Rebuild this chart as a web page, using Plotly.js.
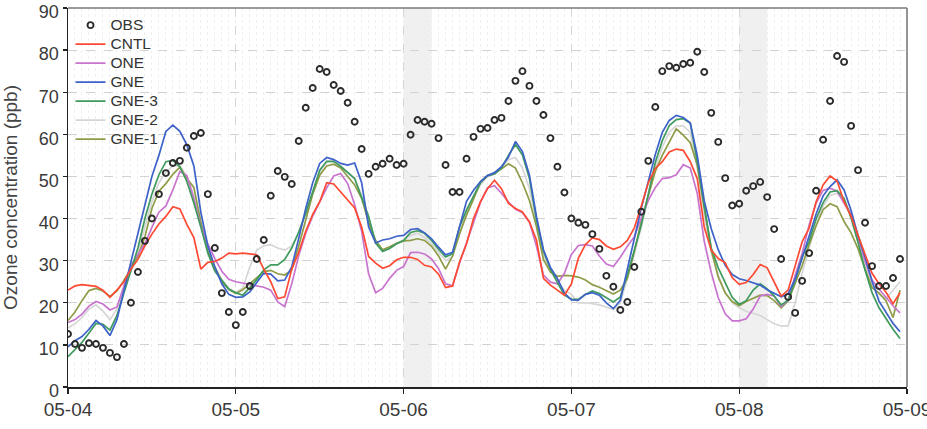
<!DOCTYPE html>
<html>
<head>
<meta charset="utf-8">
<script src="https://cdn.plot.ly/plotly-3.0.1.min.js"></script>
<style>html,body{margin:0;padding:0;background:#fff;}#chart{width:927px;height:429px;}</style>
</head>
<body>
<div id="chart"></div>
<script>
// Hourly values, 05-04 00:00 through 05-08 23:00 (120 hours)
var startDay = 4;
var tickLabels = ['05-04','05-05','05-06','05-07','05-08','05-09'];
var seriesNames = ['OBS','CNTL','ONE','GNE','GNE-3','GNE-2','GNE-1'];

var OBS = [12.6,10.2,9.3,10.4,10.2,9.3,8.1,7.1,10.2,20,
  27.3,34.7,40,45.8,50.8,53.2,53.7,56.8,59.6,60.3,
  45.8,33,22.3,17.8,14.7,17.8,24,30.4,34.9,45.4,
  51.3,49.9,48.2,58.4,66.3,71,75.5,74.8,71.7,70.3,
  67.5,63,56.5,50.6,52.3,53,54.2,52.7,53,59.9,
  63.4,63,62.5,59.1,52.7,46.3,46.3,54.2,59.4,61.3,
  61.5,63.4,63.9,67.9,72.7,75,71.5,67.9,64.6,59.1,
  52.3,46.2,40,39,38.5,36.3,32.8,26.4,23.8,18.3,
  20.2,28.5,41.6,53.7,66.5,75,76.2,75.8,76.7,77,
  79.6,74.8,65.1,58.2,49.6,43.1,43.5,46.6,47.7,48.7,
  45.1,37.5,30.4,21.4,17.6,25.2,31.8,46.6,58.7,67.9,
  78.6,77.2,62,51.5,39,28.7,24,24,25.9,30.4];

var CNTL = [23,24,24.3,24.1,23.9,23,21.3,23,25,28,30.3,33.5,36.3,38.7,40.5,42.8,42.3,38.6,35.5,28,29.6,29.8,30.6,31.8,31.6,
  31.8,31.6,31.4,28,25,21,21.4,28,32,37,41,44,48.5,48.2,46.3,44.3,42.5,38,31,29.4,28.2,28.8,30.2,30.8,
  30.8,30.3,28.9,28.5,26.8,23.6,24,29.7,34,40,44,47.1,49.1,47.1,43.6,42.4,41.6,39.2,34.9,25.8,24.2,23,21.8,24.5,
  30.6,33.8,35.4,35,33.5,32.7,33.3,34.8,37.8,43,48.5,51.9,53.5,55.8,56.5,56.2,53.5,49.5,38,32.5,30.5,29.5,26,24.4,24.8,
  26.7,29.1,28.3,25,21.6,23,29,34.5,37.7,44,48,50.1,48.9,44,40.5,36,31.5,27,24.5,22.5,19.8,22.4];

var ONE = [15.3,16,17.3,19.2,20.3,19.7,18.3,19,24,28.8,31.5,34,37.9,41.5,43,46.8,51.2,50.2,44.7,38.2,34,30.5,27.5,25.6,25,
  24.7,24.4,24,23.7,23,20.2,19.1,24.5,31.2,36.5,40.6,44,47.3,50.1,50.7,48.3,43.3,37,26.8,22.4,23.4,25.8,27.7,28.6,
  31.9,32,31.6,30.4,28.1,24.5,24,29.4,34.2,39.2,43.9,47.3,47.8,46,43.9,42.2,41.4,39.1,33.5,26.6,24.9,24.5,27,31.5,
  33.6,33.8,33.5,31.1,29.2,28.6,30.8,33.4,35.7,40.2,44.3,47.4,49.5,49.7,50.4,52.8,52,46,34.6,27.2,21.2,17.4,15.7,15.7,16.2,
  18.5,21.6,22,21.6,19.1,20.6,26.5,31.7,38.5,43.7,46.7,47.2,46.5,43.6,41.1,35.5,29.9,25.4,23.2,21.3,19.3,17.6];

var GNE = [9.5,11,12,13.7,15.8,14.5,12.2,16,22.9,29.8,36.5,43,50,55,60.7,62.2,60.7,57.5,52.5,41.5,33.5,28.5,24.5,22,21.3,
  21.4,22.6,24.8,27,26.8,25.2,25.4,28.5,35.3,42.4,48.5,53.1,54.5,54,53.1,52.7,53.2,48.5,38,34.2,34.9,35.2,35.8,36,
  37.4,37.6,36.6,35.2,33.2,31.4,32,38.4,44.1,46.7,48.8,50.2,50.9,52.3,54.6,58.3,55.9,50.3,40.5,32.6,28.4,25.7,22.3,20.7,
  20.6,22,22.4,21.8,20,18.6,20.6,28,35.2,42.5,48.8,55.2,60.5,63.3,64.5,64,62.7,55,44.2,37.6,32.6,28.9,26.7,25.7,25.3,
  24.8,24.2,23.1,22.3,21.4,22.1,25.6,30.6,36.1,41.1,45.4,47.6,49.2,46.8,41.9,36,30.9,25.1,20.4,17.7,15.1,13.1];

var GNE3 = [7.2,8.8,10.6,12.8,15.1,14.9,13.5,17,22.5,28,33,40,45.8,50.4,53.5,53.8,52.3,48.8,43.7,38,31.8,27.5,25.3,23.2,22.4,
  21.8,23.6,25.5,27.8,29,29,30.3,33,36.8,41.2,46.2,51.5,53.6,53.6,52.4,51,49.5,45,40.5,34.2,32.2,32.9,34,34.8,
  36.7,37.1,36.5,34.8,32.7,30.9,31.6,38,42,45.3,48.5,50.2,50.6,52,55,57.6,55.1,49.5,39.7,32.3,28,24.8,21.9,20.8,
  20.8,22,22.8,22.2,21.3,20.2,21.4,26.6,32.5,38.5,45.8,53.3,58.5,62.1,63.5,63.7,62.7,53.5,43,33,28.3,24.9,21.3,19.6,20.5,
  23,24.5,23.3,21.6,19.5,20.6,25.3,30.9,34.6,39.9,43.8,46.3,46.6,44.8,40.1,34.3,27.8,22.4,18.8,16.2,13.7,11.5];

var GNE2 = [14,15,16.5,18.5,19.5,18,16,18.5,23,27.5,32,38,44,48.5,51,52.5,52.5,50,45.5,39,33,28.5,25.5,23.5,22.5,
  23.5,28.5,32.5,33.5,33.8,33,32.5,33.5,36.5,41.5,46.5,51,53.5,53.5,52.5,51,49.5,45.5,40,34.5,32.5,33,34,35,
  36,36.5,35.5,34,32,30,31,36.5,41.5,45,48,50,50.6,52,54,54.5,52,47,39,31.5,27.5,25,23,22,
  20,20,19.8,19.5,19,18.4,20,25.5,31.5,38,45,52,57,60.5,62,62,60.5,52,41,32,26.5,22.5,20,18.8,18,
  17.5,17,16,15,14.5,14.5,20,27,33,38.5,43,45.5,46,44.5,40.5,35,29,24.5,22,21,23,25];

var GNE1 = [15.8,17.8,20.5,22.9,23.4,22.8,21.5,22.8,25.3,28.2,31,35.7,42.4,46.5,48.3,50.5,52.2,49.5,47.4,39.2,32.3,28.5,25,23.2,22.2,
  23.1,24.6,26,27.4,27.7,26.9,26.6,27.8,33.5,39.7,45.8,50.3,52.5,52.9,52,50,48,44.8,39,34.8,32.6,33.3,34.1,34.7,
  34.8,35.2,34.8,33.4,31.1,28,31.1,36.4,40.8,44.6,48.8,50.2,50.7,51.8,53,52,48.5,44.3,38.1,30.3,27.3,26.3,26.5,26.4,
  26.1,25.4,24.3,23.7,22.8,22.1,23,25.8,32.2,39.4,45.5,51.2,55,58.2,61.3,59.8,58,52.7,42.2,32.6,26.1,22.3,20.3,19.3,20.3,
  21,21.8,21.7,20.5,18.8,20.4,24.6,28.8,33.8,38.3,42.1,43.5,42.8,39.3,36.6,32.8,28,23.6,22.3,20.5,16.5,23];

var shadedDays = ['2014-05-06', '2014-05-08'];
var shadedHours = 4;

function pad(n){ return (n < 10 ? '0' : '') + n; }
var times = [];
for (var h = 0; h < OBS.length; h++) {
  var d = startDay + Math.floor(h / 24);
  times.push('2014-05-' + pad(d) + ' ' + pad(h % 24) + ':00');
}
var tickVals = [];
for (var i = 0; i < tickLabels.length; i++) tickVals.push('2014-05-' + pad(startDay + i) + ' 00:00');

function lbl(s){ return '<span style="font-size:15.5px">' + s + '</span>'; }

var colors = {CNTL:'#ff4a33', ONE:'#c874cf', GNE:'#3d62c9', 'GNE-3':'#3f9a5d', 'GNE-2':'#d6d6d6', 'GNE-1':'#8e9c48'};
var values = {CNTL:CNTL, ONE:ONE, GNE:GNE, 'GNE-3':GNE3, 'GNE-2':GNE2, 'GNE-1':GNE1};
var drawOrder = ['GNE-2','GNE-1','ONE','GNE-3','GNE','CNTL'];

var traces = [];
drawOrder.forEach(function(n){
  traces.push({x: times, y: values[n], type:'scatter', mode:'lines', name: lbl(n),
    legendrank: seriesNames.indexOf(n) + 1,
    line:{color: colors[n], width: 1.7}});
});
traces.push({x: times, y: OBS, type:'scatter', mode:'markers', name: lbl('OBS'), legendrank: 1,
  marker:{symbol:'circle-open', size:6, color:'#2b2b2b', line:{width:1.9, color:'#2b2b2b'}}});

var shapes = [];
shadedDays.forEach(function(dd){
  var end = dd + ' ' + pad(shadedHours) + ':00';
  shapes.push({type:'rect', xref:'x', yref:'paper', x0: dd + ' 00:00', x1: end, y0:0, y1:1,
    fillcolor:'#f0f0f0', line:{width:0}, layer:'below'});
});
shapes.push({type:'line', xref:'paper', yref:'paper', x0:0, x1:1, y0:1, y1:1, line:{color:'#7a7a7a', width:1.6}});
shapes.push({type:'line', xref:'paper', yref:'paper', x0:1, x1:1, y0:0, y1:1, line:{color:'#7a7a7a', width:1.6}});

var layout = {
  width: 927, height: 429,
  margin: {l:68, r:20, t:8, b:42},
  paper_bgcolor:'#ffffff', plot_bgcolor:'#ffffff',
  font: {family:'"Liberation Sans", Arial, sans-serif', color:'#3a3a3a'},
  showlegend: true,
  legend: {x:0.003, y:0.993, xanchor:'left', yanchor:'top', bgcolor:'rgba(255,255,255,0)',
    borderwidth:0, font:{size:12, color:'#333'}, traceorder:'normal', itemwidth:30},
  xaxis: {type:'date', range:[tickVals[0], tickVals[tickVals.length-1]],
    tickmode:'array', tickvals: tickVals, ticktext: tickLabels, ticklabeloverflow:'allow',
    ticks:'outside', ticklen:5, tickwidth:1.3, tickcolor:'#222',
    showline:true, linecolor:'#222', linewidth:1.5,
    showgrid:true, gridcolor:'#d6d6d6', griddash:'dash', gridwidth:1,
    minor:{dtick:3600000, showgrid:true, gridcolor:'#efefef', griddash:'dot', gridwidth:1},
    tickfont:{size:19, color:'#3a3a3a'}, zeroline:false},
  yaxis: {range:[0,90], dtick:10, tick0:0, ticklabeloverflow:'allow', ticklabelshift:4,
    ticks:'outside', ticklen:4, tickwidth:1.3, tickcolor:'#222',
    showline:true, linecolor:'#222', linewidth:1.5,
    showgrid:true, gridcolor:'#d2d2d2', griddash:'dash', gridwidth:1,
    tickfont:{size:18, color:'#3a3a3a'}, zeroline:false,
    title:{text:'Ozone concentration (ppb)', font:{size:19, color:'#444'}, standoff:22}},
  shapes: shapes
};

Plotly.newPlot('chart', traces, layout, {displayModeBar:false, staticPlot:true});
</script>
</body>
</html>
